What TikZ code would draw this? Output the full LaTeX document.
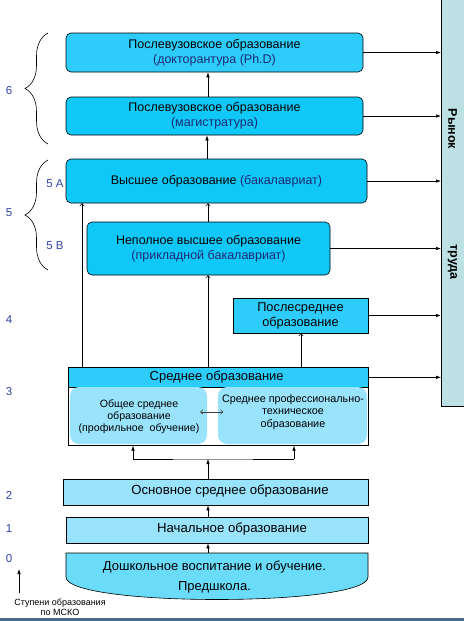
\documentclass[tikz,border=0pt]{standalone}
\usepackage{fontspec}
\setmainfont{Liberation Sans}
\usetikzlibrary{arrows.meta,decorations.pathreplacing}
\definecolor{cyanA}{HTML}{2ECCFA}
\definecolor{cyanB}{HTML}{0FC8F8}
\definecolor{cyanL}{HTML}{99E4FC}
\definecolor{cyanD}{HTML}{6ADCFA}
\definecolor{panelc}{HTML}{BCE0E4}
\definecolor{navy}{HTML}{1C2A72}
\definecolor{lvlblue}{HTML}{2F44A8}
\definecolor{barc}{HTML}{4C6B8C}
\begin{document}
\begin{tikzpicture}[x=1pt,y=-1pt,
  box/.style={draw=black, line width=0.6pt, fill=cyanA, rounded corners=5pt, inner sep=0pt, align=center, font=\fontsize{12.5}{15}\selectfont},
  sqbox/.style={box, rounded corners=0pt},
  lbox/.style={sqbox, fill=cyanL},
  inbox/.style={fill=cyanL, rounded corners=9pt, inner sep=0pt, align=center, font=\fontsize{10.6}{12.2}\selectfont},
  txt/.style={inner sep=0pt, align=center, font=\fontsize{12.6}{15}\selectfont},
  arr/.style={-{Latex[length=5pt,width=3.5pt]}, line width=0.6pt},
  uparr/.style={-{To[length=3pt,width=5pt]}, line width=0.6pt},
  lvl/.style={text=lvlblue, font=\fontsize{11.5}{12}\selectfont, inner sep=0pt},
  par/.style={text=navy}]
\useasboundingbox (0,0) rectangle (464,621);
\fill[white] (0,0) rectangle (464,621);
% market panel
\node[fill=panelc, minimum width=23pt, minimum height=406pt, anchor=north west, inner sep=0pt] (rynok) at (441,0) {};
\draw[line width=0.6pt] (rynok.north west) -- (rynok.south west) -- (rynok.south east);
\node[rotate=-90, font=\bfseries\fontsize{12.5}{14}\selectfont] (rt1) at (452.5,129) {Рынок};
\node[rotate=-90, font=\bfseries\fontsize{12.5}{14}\selectfont] (rt2) at (452.5,262) {труда};
% boxes
\node[box, minimum width=297pt, minimum height=39pt] (doct) at (214.5,52.5) {Послевузовское образование\\{\color{navy}(докторантура (Ph.D)}};
\node[box, fill=cyanB, minimum width=297pt, minimum height=38pt] (mag) at (214.5,116) {Послевузовское образование\\{\color{navy}(магистратура)}};
\node[box, fill=cyanB, minimum width=301pt, minimum height=44pt] (bach) at (216.5,181) {Высшее образование {\color{navy}(бакалавриат)}};
\node[box, fill=cyanB, minimum width=243pt, minimum height=53pt] (nep) at (208.5,248.5) {Неполное высшее образование\\{\color{navy}(прикладной бакалавриат)}};
\node[sqbox, minimum width=135pt, minimum height=35pt, font=\fontsize{12.8}{15}\selectfont] (posl) at (300.5,315.5) {Послесреднее\\образование};
% secondary block
\node[sqbox, fill=white, minimum width=300pt, minimum height=78pt, anchor=north west] (sredout) at (68,367) {};
\node[sqbox, minimum width=300pt, minimum height=20pt, anchor=north west] (sred) at (68,367) {};
\node[txt, font=\fontsize{13}{15}\selectfont] (sredt) at (216.7,377) {Среднее образование};
\node[inbox, minimum width=137pt, minimum height=57pt] (obsh) at (138.5,415.5) {};
\node[txt, font=\fontsize{10.6}{12.2}\selectfont] (obsht) at (139,416.5) {Общее среднее\\образование\\(профильное\ \ обучение)};
\node[inbox, minimum width=149pt, minimum height=57pt] (prof) at (292.5,415.5) {};
\node[txt, font=\fontsize{10.8}{12.4}\selectfont] (proft) at (293,412) {Среднее профессионально-\\техническое\\образование};
\draw[{To[length=3pt,width=5pt]}-{To[length=3pt,width=5pt]}, line width=0.6pt, draw=black!75] (obsh.east |- 0,412) ++(-7,0) coordinate (da) -- ++(23,0) coordinate (db);
% lower boxes
\node[lbox, minimum width=305pt, minimum height=26pt] (osn) at (215.5,492) {};
\node[txt, font=\fontsize{13.2}{15}\selectfont] (osnt) at (230,491.5) {Основное среднее образование};
\node[lbox, minimum width=302pt, minimum height=26pt] (nach) at (217,530) {};
\node[txt, font=\fontsize{13.2}{15}\selectfont] (nacht) at (232,529) {Начальное образование};
\draw[line width=0.6pt, fill=cyanD] (66,553) -- (368,553) -- (368,577) .. controls (368,607) and (66,607) .. (66,577) -- cycle;
\node[txt, font=\fontsize{13}{20}\selectfont] (dosh) at (214.5,577.5) {Дошкольное воспитание и обучение.\\Предшкола.};
% arrows between levels
\draw[arr] (208,0 |- mag.north) -- (208,0 |- doct.south);
\draw[arr] (207,0 |- bach.north) -- (207,0 |- mag.south);
\draw[uparr] (208,0 |- nep.north) -- (208,0 |- bach.south);
\draw[uparr] (82,0 |- sred.north) -- (82,0 |- bach.south);
\draw[uparr] (208,0 |- sred.north) -- (208,0 |- nep.south);
\draw[uparr] (301,0 |- sred.north) -- (301,0 |- posl.south);
\coordinate (jl) at (133,459);
\coordinate (jr) at (294,459);
\coordinate (jm) at (208,459);
\draw[line width=0.6pt] (jl) -- (jr);
\draw[line width=1pt, gray!85] (173,459) -- (253,459);
\draw[arr] (jl) -- (jl |- sredout.south);
\draw[arr] (jr) -- (jr |- sredout.south);
\draw[arr] (jm |- osn.north) -- (jm);
\draw[arr] (208,0 |- nach.north) -- (208,0 |- osn.south);
\draw[arr] (208,553) -- (208,0 |- nach.south);
% arrows to market
\draw[arr] (doct.east) -- (doct.east -| rynok.west);
\draw[arr] (mag.east) -- (mag.east -| rynok.west);
\draw[arr] (bach.east) -- (bach.east -| rynok.west);
\draw[arr] (nep.east) -- (nep.east -| rynok.west);
\draw[arr, line width=1.4pt] (posl.east) -- (posl.east -| rynok.west);
\draw[arr] (sred.east) -- (sred.east -| rynok.west);
% braces and levels
\draw[line width=0.6pt, decorate, decoration={brace, amplitude=23pt}] (48,144) -- (48,33);
\draw[line width=0.6pt, decorate, decoration={brace, amplitude=23pt}] (48,270) -- (48,160);
\node[lvl] (l6) at (9,91) {6};
\node[lvl] (l5) at (9,213) {5};
\node[lvl] (l5a) at (55,184) {5 А};
\node[lvl] (l5b) at (55,246) {5 В};
\node[lvl] (l4) at (9,320) {4};
\node[lvl] (l3) at (9,392) {3};
\node[lvl] (l2) at (9,495) {2};
\node[lvl] (l1) at (9,529) {1};
\node[lvl] (l0) at (9,559) {0};
\coordinate (sa) at (19,593);
\coordinate (sb) at (19,569);
\draw[arr] (sa) -- (sb);
\node[inner sep=0pt, align=center, font=\fontsize{9}{10.5}\selectfont] (stup) at (60,607) {Ступени образования\\по МСКО};
\fill[barc] (0,617.5) rectangle (464,621);
\end{tikzpicture}
\end{document}
